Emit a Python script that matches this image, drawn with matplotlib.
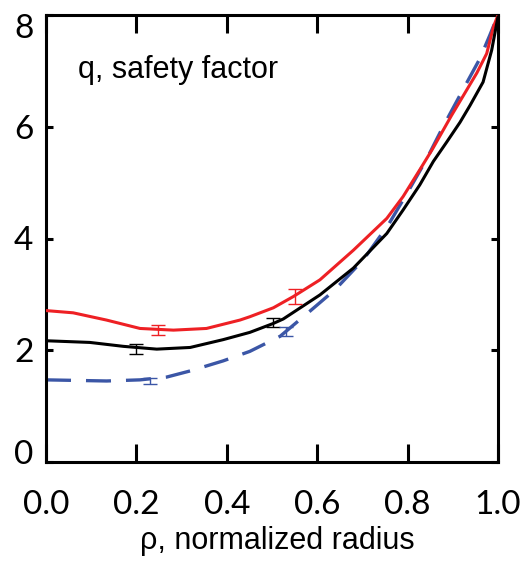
import matplotlib
matplotlib.use("Agg")
import matplotlib.pyplot as plt
import matplotlib.transforms as mtransforms
from matplotlib import font_manager

# ---- data ----
red_x = [0.0, 0.06, 0.134, 0.208, 0.282, 0.355, 0.429, 0.451, 0.503, 0.547, 0.606, 0.680, 0.754,
         0.790, 0.827, 0.855, 0.897, 0.953, 0.975, 0.990, 1.0]
red_y = [2.71, 2.67, 2.54, 2.39, 2.36, 2.39, 2.54, 2.60, 2.76, 2.96, 3.26, 3.79, 4.36,
         4.75, 5.23, 5.60, 6.20, 6.96, 7.31, 7.79, 8.0]

blk_x = [0.0, 0.097, 0.171, 0.245, 0.319, 0.392, 0.451, 0.503, 0.525, 0.606, 0.680, 0.754,
         0.790, 0.827, 0.857, 0.886, 0.916, 0.938, 0.967, 0.986, 1.0]
blk_y = [2.17, 2.14, 2.07, 2.02, 2.05, 2.19, 2.32, 2.48, 2.56, 2.99, 3.47, 4.09,
         4.51, 4.96, 5.38, 5.72, 6.08, 6.38, 6.80, 7.37, 7.97]

blu_x = [0.0, 0.134, 0.208, 0.267, 0.319, 0.392, 0.451, 0.518, 0.584, 0.639, 0.702, 0.757,
         0.801, 0.842, 0.879, 0.923, 0.960, 0.982, 1.0]
blu_y = [1.47, 1.45, 1.47, 1.52, 1.63, 1.81, 1.98, 2.25, 2.70, 3.08, 3.62, 4.24,
         4.84, 5.42, 6.01, 6.67, 7.22, 7.64, 8.0]

# error bars
red_ex = [0.248, 0.551]
red_ey = [2.37, 2.96]
red_ee = [0.09, 0.14]
blk_ex = [0.20, 0.503]
blk_ey = [2.03, 2.49]
blk_ee = [0.09, 0.08]
blu_ex = [0.23, 0.532]
blu_ey = [1.45, 2.33]
blu_ee = [0.05, 0.08]

xticks = [0.0, 0.2, 0.4, 0.6, 0.8, 1.0]
xticklabels = ["0.0", "0.2", "0.4", "0.6", "0.8", "1.0"]
yticks = [0, 2, 4, 6, 8]
yticklabels = ["0", "2", "4", "6", "8"]

RED = "#ee2024"
BLUE = "#3b56a6"

# condensed sans for the annotations, if available
try:
    font_manager.findfont("Liberation Sans Narrow", fallback_to_default=False)
    TXT_FAM, TXT_SIZE = "Liberation Sans Narrow", 27
except Exception:
    TXT_FAM, TXT_SIZE = "Liberation Sans", 22

fig = plt.figure(figsize=(5.24, 5.64), dpi=100)
ax = fig.add_axes([46/524, 1-462/564, 452/524, 447/564])

ax.plot(red_x, red_y, color=RED, lw=2.2, solid_joinstyle="round", solid_capstyle="round", zorder=3)
ax.plot(blk_x, blk_y, color="black", lw=2.2, solid_joinstyle="round", solid_capstyle="round", zorder=3)
bl, = ax.plot(blu_x, blu_y, color=BLUE, lw=2.4, zorder=2)
bl.set_dashes((7.5, 4.5))

ax.errorbar(red_ex, red_ey, yerr=red_ee, fmt="none", ecolor=RED, elinewidth=1.0, capsize=5, capthick=1.0, zorder=4)
ax.errorbar(blk_ex, blk_ey, yerr=blk_ee, fmt="none", ecolor="black", elinewidth=1.0, capsize=5, capthick=1.0, zorder=4)
ax.errorbar(blu_ex, blu_ey, yerr=blu_ee, fmt="none", ecolor=BLUE, elinewidth=1.0, capsize=5, capthick=1.0, zorder=4)

ax.set_xlim(0, 1)
ax.set_ylim(0, 8)
ax.set_xticks(xticks)
ax.set_xticklabels(xticklabels, fontfamily="Lato", fontsize=24)
ax.set_yticks(yticks)
ax.set_yticklabels(yticklabels, fontfamily="Lato", fontsize=24)

for s in ax.spines.values():
    s.set_linewidth(2.2)

ax.tick_params(axis="x", which="both", direction="in", length=13, width=2.2,
               top=True, bottom=True, pad=20)
ax.tick_params(axis="y", which="both", direction="in", length=5, width=2.2,
               left=True, right=True, pad=9)

# nudge the end labels inward as in the reference
labs = ax.get_yticklabels()
off_up = mtransforms.ScaledTranslation(0, 7/72, fig.dpi_scale_trans)
off_dn = mtransforms.ScaledTranslation(0, -8/72, fig.dpi_scale_trans)
labs[0].set_transform(labs[0].get_transform() + off_up)
labs[-1].set_transform(labs[-1].get_transform() + off_dn)

ax.text(0.071, 0.877, "q, safety factor", transform=ax.transAxes,
        fontsize=TXT_SIZE, fontfamily=TXT_FAM, va="center", ha="left")

fig.text(277/524, 1-541/564, "ρ, normalized radius", fontsize=TXT_SIZE,
         fontfamily=TXT_FAM, va="center", ha="center")

fig.savefig("out.png", dpi=100)
